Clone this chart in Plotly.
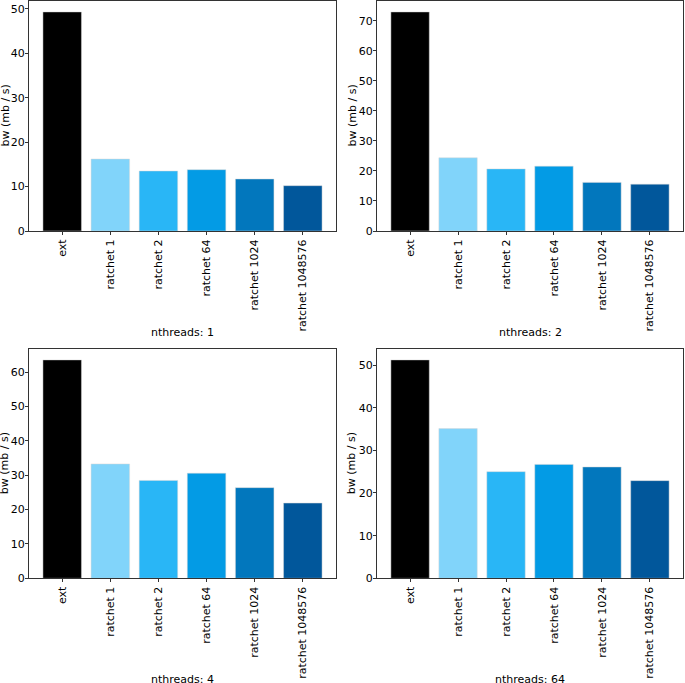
import plotly.graph_objects as go
from plotly.subplots import make_subplots

categories = ["ext", "ratchet 1", "ratchet 2", "ratchet 64", "ratchet 1024", "ratchet 1048576"]
bw_nthreads_1 = [49.3, 16.2, 13.5, 13.8, 11.7, 10.2]
bw_nthreads_2 = [73.0, 24.4, 20.7, 21.6, 16.2, 15.6]
bw_nthreads_4 = [63.6, 33.3, 28.5, 30.6, 26.4, 21.9]
bw_nthreads_64 = [51.2, 35.1, 25.0, 26.7, 26.1, 22.9]
panel_titles = ["nthreads: 1", "nthreads: 2", "nthreads: 4", "nthreads: 64"]
y_title = "bw (mb / s)"
bar_colors = ["#000000", "#81d4fa", "#29b6f6", "#039be5", "#0277bd", "#01579b"]

series = [bw_nthreads_1, bw_nthreads_2, bw_nthreads_4, bw_nthreads_64]

W, H = 685, 683
fig = make_subplots(rows=2, cols=2)

xpix = [[29, 336], [377, 683]]
ypix = [[1, 231], [349, 578.3]]
xdoms = [[a / W, b / W] for a, b in xpix]
ydoms = [[(H - b) / H, (H - a) / H] for a, b in ypix]
ytitle_x = [4.5, 351.5]
xtitle_y = [332, 679.5]

font = dict(family="DejaVu Sans", size=11, color="#000000")

for i, vals in enumerate(series):
    r, c = i // 2 + 1, i % 2 + 1
    fig.add_trace(
        go.Bar(
            x=categories,
            y=vals,
            marker=dict(color=bar_colors, line=dict(color="rgba(215,215,215,0.8)", width=0.6)),
            showlegend=False,
            hoverinfo="x+y",
        ),
        row=r,
        col=c,
    )
    ymax = max(vals) * 1.05
    fig.update_xaxes(
        domain=xdoms[c - 1],
        range=[-0.69, 5.69],
        tickangle=-90,
        ticks="outside",
        ticklen=3,
        tickcolor="#333",
        showline=True,
        linecolor="#333",
        linewidth=1,
        mirror=True,
        showgrid=False,
        zeroline=False,
        tickfont=font,
        row=r,
        col=c,
    )
    fig.update_yaxes(
        domain=ydoms[r - 1],
        range=[0, ymax],
        dtick=10,
        ticks="outside",
        ticklen=3,
        ticklabelstandoff=-2,
        tickcolor="#333",
        showline=True,
        linecolor="#333",
        linewidth=1,
        mirror=True,
        showgrid=False,
        zeroline=False,
        tickfont=font,
        row=r,
        col=c,
    )
    # x axis title (below rotated tick labels)
    fig.add_annotation(
        text=panel_titles[i],
        x=sum(xdoms[c - 1]) / 2,
        y=(H - xtitle_y[r - 1]) / H,
        xref="paper",
        yref="paper",
        xanchor="center",
        yanchor="middle",
        showarrow=False,
        font=font,
    )
    # y axis title
    fig.add_annotation(
        text=y_title,
        x=ytitle_x[c - 1] / W,
        y=sum(ydoms[r - 1]) / 2,
        xref="paper",
        yref="paper",
        xanchor="center",
        yanchor="middle",
        textangle=-90,
        showarrow=False,
        font=font,
    )

fig.update_layout(
    width=W,
    height=H,
    margin=dict(l=0, r=0, t=0, b=0, autoexpand=False),
    paper_bgcolor="white",
    plot_bgcolor="white",
    bargap=0.2,
)

fig.write_html(
    "out.html",
    config={"displayModeBar": False},
    post_script="document.body.style.margin='0';document.body.style.overflow='hidden';",
)
